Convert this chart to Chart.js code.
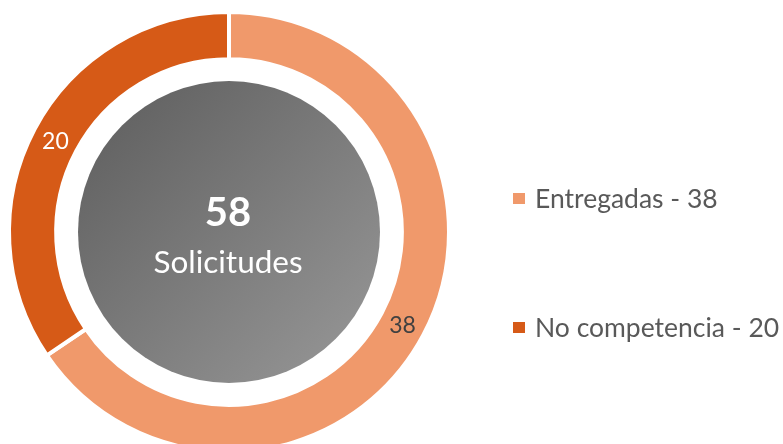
<!DOCTYPE html>
<html>
<head>
<meta charset="utf-8">
<script src="https://cdn.jsdelivr.net/npm/chart.js@4.4.1/dist/chart.umd.min.js"></script>
<style>
  html, body { margin: 0; padding: 0; background: #fff; overflow: hidden; }
  #wrap { width: 783px; height: 444px; position: relative; }
</style>
</head>
<body>
<div id="wrap"><canvas id="chart"></canvas></div>
<script>
// data
const categories = ['Entregadas', 'No competencia'];
const values = [38, 20];
const colors = ['#F0996B', '#D65A17'];
const labelColors = ['#404040', '#FFFFFF'];
const centerCaption = 'Solicitudes';

const FONT = "Lato, 'Open Sans', sans-serif";

const overlay = {
    id: 'overlay',
    beforeDatasetsDraw(chart) {
        const arc = chart.getDatasetMeta(0).data[0];
        const ctx = chart.ctx;
        const cx = arc.x, cy = arc.y, r = 151;
        const grad = ctx.createLinearGradient(cx - r, cy - r, cx + r, cy + r);
        grad.addColorStop(0, '#5c5c5c');
        grad.addColorStop(1, '#999999');
        ctx.save();
        ctx.beginPath();
        ctx.arc(cx, cy, r, 0, Math.PI * 2);
        ctx.fillStyle = grad;
        ctx.fill();
        ctx.restore();
    },
    afterDatasetsDraw(chart) {
        const ctx = chart.ctx;
        const meta = chart.getDatasetMeta(0);
        const cx = meta.data[0].x, cy = meta.data[0].y;
        ctx.save();

        // value labels in the ring
        ctx.textAlign = 'center';
        ctx.textBaseline = 'middle';
        ctx.font = '23px ' + FONT;
        meta.data.forEach((a, i) => {
            const p = a.tooltipPosition();
            ctx.fillStyle = labelColors[i];
            ctx.fillText(String(values[i]), p.x, p.y + 2);
        });

        // centre text
        const total = values.reduce((s, v) => s + v, 0);
        ctx.fillStyle = '#FFFFFF';
        ctx.textBaseline = 'alphabetic';
        ctx.font = 'bold 40px ' + FONT;
        ctx.fillText(String(total), cx - 1, cy - 6);
        ctx.font = '31.5px ' + FONT;
        ctx.fillText(centerCaption, cx - 1, cy + 41);

        // legend
        const legendY = [199, 328];
        ctx.textAlign = 'left';
        ctx.textBaseline = 'middle';
        ctx.font = '26.5px ' + FONT;
        categories.forEach((c, i) => {
            ctx.fillStyle = colors[i];
            ctx.fillRect(513, legendY[i] - 6, 12, 11);
            ctx.fillStyle = '#595959';
            ctx.fillText(c + ' - ' + values[i], 535, legendY[i]);
        });
        ctx.restore();
    }
};

new Chart(document.getElementById('chart'), {
    type: 'doughnut',
    data: {
        labels: categories,
        datasets: [{
            data: values,
            backgroundColor: colors,
            borderColor: '#FFFFFF',
            borderWidth: 4
        }]
    },
    options: {
        responsive: true,
        maintainAspectRatio: false,
        animation: false,
        radius: 220,
        cutout: 165,
        layout: { padding: { top: 20, right: 325, left: 0, bottom: 0 } },
        plugins: {
            legend: { display: false },
            tooltip: { enabled: false }
        }
    },
    plugins: [overlay]
});
</script>
</body>
</html>
